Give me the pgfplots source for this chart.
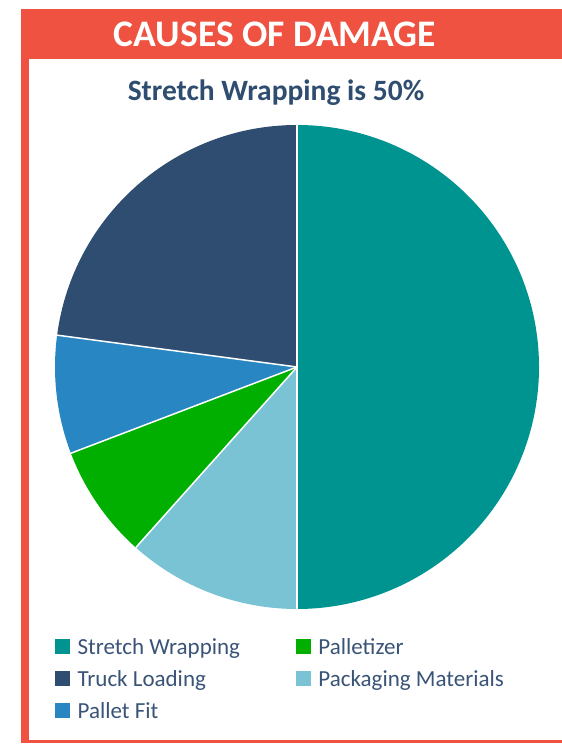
\documentclass[border=0pt]{standalone}
\usepackage{fontspec}
\setmainfont{Carlito}
\usepackage{pgfplots}
\usepackage{pgfplotstable}
\pgfplotsset{compat=1.18}

\definecolor{frame}{HTML}{EF5240}
\definecolor{ink}{HTML}{2E4D70}
\definecolor{legtext}{HTML}{3A5478}
\definecolor{swcol}{HTML}{009490}
\definecolor{pmcol}{HTML}{79C3D5}
\definecolor{plcol}{HTML}{00AF00}
\definecolor{pfcol}{HTML}{2887C3}
\definecolor{tlcol}{HTML}{2E4D70}

% share of each cause (%), clockwise from 12 o'clock
\pgfplotstableread{
cause value
Stretch 50.0
Packaging 11.6
Palletizer 7.6
PalletFit 7.9
Truck 22.9
}\piedata

\begin{document}
\begin{tikzpicture}[x=1pt,y=1pt]
\useasboundingbox (0,0) rectangle (562,744);
% red frame, open to the right
\fill[frame] (21,1) rectangle (620,735);
\fill[white] (29,4) rectangle (620,685);
\node[anchor=base, text=white, font=\bfseries\fontsize{37.5}{40}\selectfont] at (275,697) {CAUSES OF DAMAGE};
\node[anchor=base, text=ink, font=\bfseries\fontsize{29.5}{32}\selectfont] at (276,643) {Stretch Wrapping is 50\%};

\begin{axis}[
  at={(297pt,377pt)}, anchor=center,
  x=242pt, y=242pt,
  xmin=-1, xmax=1, ymin=-1, ymax=1,
  hide axis, clip=false,
  legend columns=2,
  legend cell align=left,
  legend image code/.code={\fill[#1] (0pt,-4.5pt) rectangle (14pt,9.5pt);},
  legend style={at={(axis cs:-1,-1.12)}, anchor=north west,
    draw=none, fill=none, inner sep=0pt,
    nodes={inner sep=0pt, text height=16pt, text depth=5pt},
    font=\fontsize{23}{27}\selectfont, text=legtext,
    row sep=11pt,
    /tikz/every odd column/.append style={column sep=8pt},
    /tikz/every even column/.append style={column sep=56pt}},
]
\pgfplotsextra{
  \gdef\startangle{90}
  \foreach \row/\col in {0/swcol,1/pmcol,2/plcol,3/pfcol,4/tlcol}{
    \pgfplotstablegetelem{\row}{value}\of\piedata
    \pgfmathsetmacro\sweep{3.6*\pgfplotsretval}
    \fill[\col] (axis cs:0,0) -- ++(\startangle:242pt)
      arc[start angle=\startangle, delta angle=-\sweep, radius=242pt] -- cycle;
    \draw[white, line width=1.5pt] (axis cs:0,0) -- ++(\startangle:242pt);
    \pgfmathsetmacro\nextangle{\startangle-\sweep}
    \global\let\startangle\nextangle
  }
  \draw[white, line width=1.5pt] (axis cs:0,0) -- ++(90:242pt);
}
\addlegendimage{swcol}\addlegendentry{Stretch Wrapping}
\addlegendimage{plcol}\addlegendentry{Palletizer}
\addlegendimage{tlcol}\addlegendentry{Truck Loading}
\addlegendimage{pmcol}\addlegendentry{Packaging Materials}
\addlegendimage{pfcol}\addlegendentry{Pallet Fit}
\end{axis}
\end{tikzpicture}
\end{document}
